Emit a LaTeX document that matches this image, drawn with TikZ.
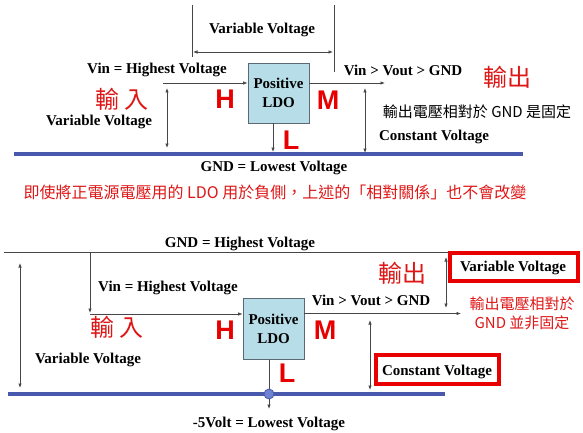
\documentclass[tikz,border=0pt]{standalone}
\usepackage{fontspec}
\setmainfont{Liberation Serif}
\newfontfamily\cjk{Noto Sans CJK TC}
\newfontfamily\hsans{Liberation Sans}
\usetikzlibrary{arrows.meta}
\definecolor{redtxt}{RGB}{222,22,22}
\definecolor{redbox}{RGB}{232,0,0}
\definecolor{gndblue}{RGB}{72,88,172}
\definecolor{dotblue}{RGB}{110,130,210}
\definecolor{ldofill}{RGB}{183,222,232}
\definecolor{ldoline}{RGB}{90,105,115}
\definecolor{wire}{RGB}{70,70,70}
\begin{document}
\begin{tikzpicture}[x=1pt,y=-1pt,
  lbl/.style={font=\fontsize{15}{17}\selectfont\bfseries, inner sep=0pt},
  bigred/.style={font=\cjk\fontsize{24}{26}\selectfont, text=redtxt, inner sep=0pt},
  pin/.style={font=\hsans\bfseries\fontsize{27}{28}\selectfont, text=redbox, inner sep=0pt},
  cjktxt/.style={font=\cjk\fontsize{15}{19}\selectfont, inner sep=0pt, align=center},
  ldo/.style={draw=ldoline, line width=0.8pt, fill=ldofill, minimum width=61pt,
     inner sep=0pt, align=center, font=\fontsize{15}{19}\selectfont\bfseries},
  wireline/.style={draw=wire, line width=0.7pt},
  arr/.style={wireline, -{Latex[length=4.5pt,width=3.5pt]}},
  darr/.style={wireline, {Latex[length=4.5pt,width=3.5pt]}-{Latex[length=4.5pt,width=3.5pt]}},
  gndline/.style={draw=gndblue, line width=4pt},
  redframe/.style={draw=redbox, line width=3.5pt, inner sep=0pt},
]
\useasboundingbox (0,0) rectangle (583,433);

% ================= TOP =================
\coordinate (tv1a) at (192,5);   \coordinate (tv1b) at (192,57);
\coordinate (tv2a) at (334,5);   \coordinate (tv2b) at (334,72);
\draw[wireline] (tv1a) -- (tv1b);
\draw[wireline] (tv2a) -- (tv2b);
\coordinate (tvl) at (193,52); \coordinate (tvr) at (333,52);
\draw[darr] (tvl) -- (tvr);
\node[lbl] (tvar) at (262,30) {Variable Voltage};

\node[ldo, minimum height=60pt] (box1) at (278.5,93) {Positive\\LDO};
\node[lbl] (tvin) at (157,70) {Vin = Highest Voltage};
\coordinate (tin) at (163,83);
\draw[arr] (tin) -- (tin -| box1.west);
\node[pin] (tH) at (225,99) {H};
\node[bigred] (tinp) at (122,99) {輸 入};
\node[lbl] (tvarL) at (99,122) {Variable Voltage};
\coordinate (tla) at (167,88); \coordinate (tlb) at (167,148);
\draw[darr] (tla) -- (tlb);

\coordinate (tgl) at (14,154); \coordinate (tgr) at (523,154);
\draw[gndline] (tgl) -- (tgr);
\coordinate (tdn) at (273,123); \coordinate (tdne) at (273,152);
\draw[arr] (tdn) -- (tdne);
\node[pin] (tL) at (291,140) {L};
\node[lbl] (tgnd) at (274,168) {GND = Lowest Voltage};

\coordinate (tout) at (385,83);
\draw[arr] (box1.east |- tout) -- (tout);
\node[pin] (tM) at (328,100) {M};
\node[lbl] (tvio) at (403,70) {Vin > Vout > GND};
\node[bigred] (toutp) at (507,77) {輸出};
\coordinate (tra) at (365,88); \coordinate (trb) at (365,153);
\draw[darr] (tra) -- (trb);
\node[cjktxt] (tfix) at (477,112) {輸出電壓相對於 GND 是固定};
\node[lbl] (tconst) at (434,137) {Constant Voltage};

\node[cjktxt, text=redtxt, font=\cjk\fontsize{16}{19}\selectfont] (cap) at (275,192)
  {即使將正電源電壓用的 LDO 用於負側，上述的「相對關係」也不會改變};

% ================= BOTTOM =================
\node[lbl] (bgndh) at (240,244) {GND = Highest Voltage};
\coordinate (bgl) at (4,252); \coordinate (bgr) at (448,252);
\draw[wireline] (bgl) -- (bgr);
\coordinate (bla) at (20,263); \coordinate (blb) at (20,388);
\draw[darr] (bla) -- (blb);
\node[lbl] (bvarL) at (88,360) {Variable Voltage};

\node[ldo, minimum height=61pt] (box2) at (273.5,328.5) {Positive\\LDO};
\coordinate (bv1) at (90,252); \coordinate (bv2) at (90,313);
\draw[arr] (bv1) -- (bv2);
\coordinate (bin) at (90,314);
\draw[arr] (bin) -- (bin -| box2.west);
\node[lbl] (bvin) at (168,288) {Vin = Highest Voltage};
\node[bigred] (binp) at (117,327) {輸 入};
\node[pin] (bH) at (225,330) {H};

\coordinate (bbl) at (8,394); \coordinate (bbr) at (445,394);
\draw[gndline] (bbl) -- (bbr);
\coordinate (bdn) at (269,359.5); \coordinate (bdne) at (269,409);
\draw[arr] (bdn) -- (bdne);
\node[circle, draw=gndblue, line width=0.8pt, fill=dotblue, minimum size=10pt, inner sep=0pt] (bdot) at (269,394) {};
\node[pin] (bL) at (287,373) {L};
\node[lbl] (bneg) at (269,424) {-5Volt = Lowest Voltage};

\coordinate (bout) at (461,313.5);
\draw[arr] (box2.east |- bout) -- (bout);
\node[pin] (bM) at (325,330) {M};
\node[lbl] (bvio) at (371,300) {Vin > Vout > GND};
\node[bigred] (boutp) at (402,273) {輸出};
\coordinate (bra) at (446,257); \coordinate (brb) at (446,308);
\draw[darr] (bra) -- (brb);
\node[redframe, minimum width=128pt, minimum height=28pt] (bvarbox) at (514,267) {};
\node[lbl] (bvarR) at (513,268) {Variable Voltage};
\node[cjktxt, text=redtxt] (bnotfix) at (522,313) {輸出電壓相對於\\GND 並非固定};
\coordinate (bca) at (370,320); \coordinate (bcb) at (370,390);
\draw[darr] (bca) -- (bcb);
\node[redframe, minimum width=123pt, minimum height=29pt] (bconstbox) at (437.5,369.5) {};
\node[lbl] (bconst) at (437,372) {Constant Voltage};
\end{tikzpicture}
\end{document}
